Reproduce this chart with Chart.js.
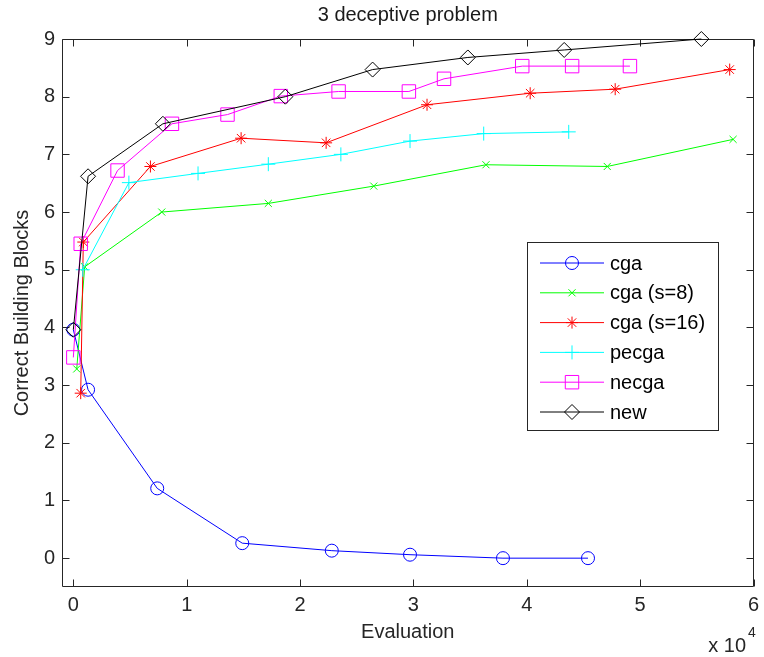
<!DOCTYPE html>
<html>
<head>
<meta charset="utf-8">
<title>3 deceptive problem</title>
<script src="https://cdn.jsdelivr.net/npm/chart.js@4.4.1/dist/chart.umd.min.js"></script>
<style>
  html, body { margin: 0; padding: 0; background: #fff; }
  #wrap { width: 764px; height: 657px; }
</style>
</head>
<body>
<div id="wrap"><canvas id="chart" width="764" height="657"></canvas></div>
<script>
// data (evaluations, correct building blocks)
const seriesNames = ['cga', 'cga (s=8)', 'cga (s=16)', 'pecga', 'necga', 'new'];

const cgaX = [0, 1300, 7400, 14900, 22800, 29700, 37900, 45400];
const cgaY = [3.96, 2.92, 1.21, 0.26, 0.13, 0.06, 0.0, 0.0];

const cga8X = [300, 1000, 7800, 17200, 26500, 36400, 47100, 58200];
const cga8Y = [3.28, 5.05, 6.0, 6.15, 6.45, 6.82, 6.79, 7.26];

const cga16X = [650, 880, 6800, 14800, 22300, 31200, 40300, 47800, 57900];
const cga16Y = [2.86, 5.48, 6.79, 7.28, 7.20, 7.86, 8.06, 8.13, 8.47];

const pecgaX = [830, 4900, 11000, 17200, 23600, 29700, 36200, 43700];
const pecgaY = [5.0, 6.51, 6.67, 6.83, 7.0, 7.23, 7.36, 7.39];

const necgaX = [0, 650, 3900, 8700, 13600, 18300, 23400, 29600, 32700, 39600, 44000, 49100];
const necgaY = [3.48, 5.45, 6.72, 7.53, 7.69, 8.01, 8.09, 8.09, 8.31, 8.53, 8.53, 8.53];

const newX = [0, 1300, 7900, 18700, 26400, 34800, 43300, 55400];
const newY = [3.96, 6.62, 7.53, 8.0, 8.47, 8.68, 8.81, 9.0];

const xTicks = [0, 10000, 20000, 30000, 40000, 50000, 60000];
const xTickLabels = ['0', '1', '2', '3', '4', '5', '6'];
const yTicks = [0, 1, 2, 3, 4, 5, 6, 7, 8, 9];

// styles
const colors = ['#0000ff', '#00ff00', '#ff0000', '#00ffff', '#ff00ff', '#000000'];
const markers = ['circle', 'crossRot', 'star', 'cross', 'rect', 'rectRot'];
const markerSizes = [6.5, 5, 6, 7, 9.5, 7.5];
const FONT = '"Liberation Sans", Arial, sans-serif';
const FS = 20;

const xs = [cgaX, cga8X, cga16X, pecgaX, necgaX, newX];
const ys = [cgaY, cga8Y, cga16Y, pecgaY, necgaY, newY];

function toPoints(xArr, yArr) {
    return xArr.map((x, i) => ({ x: x, y: yArr[i] }));
}

const datasets = seriesNames.map((name, i) => ({
    label: name,
    data: toPoints(xs[i], ys[i]),
    showLine: true,
    borderColor: colors[i],
    borderWidth: 1,
    backgroundColor: 'rgba(0,0,0,0)',
    pointStyle: markers[i],
    pointRadius: markerSizes[i],
    pointBorderColor: colors[i],
    pointBackgroundColor: 'rgba(0,0,0,0)',
    pointBorderWidth: 1,
    order: seriesNames.length - i,
    clip: false,
    tension: 0
}));

// simple marker drawer for the legend
function drawMarker(ctx, style, r, x, y) {
    ctx.beginPath();
    if (style === 'circle') {
        ctx.arc(x, y, r, 0, Math.PI * 2);
    } else if (style === 'cross') {
        ctx.moveTo(x - r, y); ctx.lineTo(x + r, y);
        ctx.moveTo(x, y - r); ctx.lineTo(x, y + r);
    } else if (style === 'crossRot') {
        const d = r * Math.SQRT1_2;
        ctx.moveTo(x - d, y - d); ctx.lineTo(x + d, y + d);
        ctx.moveTo(x - d, y + d); ctx.lineTo(x + d, y - d);
    } else if (style === 'star') {
        const d = r * Math.SQRT1_2;
        ctx.moveTo(x - r, y); ctx.lineTo(x + r, y);
        ctx.moveTo(x, y - r); ctx.lineTo(x, y + r);
        ctx.moveTo(x - d, y - d); ctx.lineTo(x + d, y + d);
        ctx.moveTo(x - d, y + d); ctx.lineTo(x + d, y - d);
    } else if (style === 'rect') {
        const s = r * Math.SQRT1_2;
        ctx.rect(x - s, y - s, 2 * s, 2 * s);
    } else if (style === 'rectRot') {
        ctx.moveTo(x, y - r); ctx.lineTo(x + r, y);
        ctx.lineTo(x, y + r); ctx.lineTo(x - r, y);
        ctx.closePath();
    }
    ctx.stroke();
}

// box, inward ticks, x labels, title, exponent and legend like the original figure
const boxPlugin = {
    id: 'matlabBox',
    beforeDatasetsDraw(chart) {
        const ctx = chart.ctx;
        const a = chart.chartArea;
        const sx = chart.scales.x, sy = chart.scales.y;
        const L = Math.round(a.left) + 0.5, R = Math.round(a.right) - 0.5;
        const T = Math.round(a.top) + 0.5, B = Math.round(a.bottom) - 0.5;
        const tl = 7;
        ctx.save();
        ctx.strokeStyle = '#262626';
        ctx.lineWidth = 1;
        ctx.beginPath();
        ctx.rect(L, T, R - L, B - T);
        xTicks.forEach(v => {
            const px = Math.round(sx.getPixelForValue(v)) + 0.5;
            ctx.moveTo(px, B); ctx.lineTo(px, B - tl);
            ctx.moveTo(px, T); ctx.lineTo(px, T + tl);
        });
        yTicks.forEach(v => {
            const py = Math.round(sy.getPixelForValue(v)) + 0.5;
            ctx.moveTo(L, py); ctx.lineTo(L + tl, py);
            ctx.moveTo(R, py); ctx.lineTo(R - tl, py);
        });
        ctx.stroke();

        // x tick labels
        ctx.fillStyle = '#262626';
        ctx.font = FS + 'px ' + FONT;
        ctx.textAlign = 'center';
        ctx.textBaseline = 'alphabetic';
        xTicks.forEach((v, i) => {
            ctx.fillText(xTickLabels[i], sx.getPixelForValue(v), 611);
        });
        ctx.restore();
    },
    afterDraw(chart) {
        const ctx = chart.ctx;
        const a = chart.chartArea;
        ctx.save();
        // title over the plot area
        ctx.fillStyle = '#1a1a1a';
        ctx.textAlign = 'center';
        ctx.textBaseline = 'middle';
        ctx.font = FS + 'px ' + FONT;
        ctx.fillText('3 deceptive problem', (a.left + a.right) / 2, 15);

        // exponent label
        ctx.fillStyle = '#262626';
        ctx.textBaseline = 'alphabetic';
        ctx.textAlign = 'right';
        ctx.font = FS + 'px ' + FONT;
        ctx.fillText('x 10', 746, 652);
        ctx.textAlign = 'left';
        ctx.font = '14px ' + FONT;
        ctx.fillText('4', 748, 637);

        // legend
        const lx = 527, ly = 242, lw = 191, lh = 188;
        ctx.fillStyle = '#ffffff';
        ctx.fillRect(lx, ly, lw, lh);
        ctx.strokeStyle = '#262626';
        ctx.lineWidth = 1;
        ctx.strokeRect(lx + 0.5, ly + 0.5, lw, lh);
        ctx.font = FS + 'px ' + FONT;
        ctx.textBaseline = 'middle';
        ctx.textAlign = 'left';
        seriesNames.forEach((name, i) => {
            const y = 263 + i * 29.8;
            ctx.strokeStyle = colors[i];
            ctx.lineWidth = 1;
            ctx.beginPath();
            ctx.moveTo(540, y); ctx.lineTo(604, y);
            ctx.stroke();
            drawMarker(ctx, markers[i], markerSizes[i], 572, y);
            ctx.fillStyle = '#000000';
            ctx.fillText(name, 610, y + 1);
        });
        ctx.restore();
    }
};

const chart = new Chart(document.getElementById('chart'), {
    type: 'scatter',
    data: { datasets },
    options: {
        responsive: false,
        animation: false,
        devicePixelRatio: 1,
        layout: { padding: { left: 0, right: 8, top: 39, bottom: 0 } },
        plugins: {
            legend: { display: false },
            tooltip: { enabled: false },
            title: { display: false }
        },
        scales: {
            x: {
                type: 'linear',
                min: -1000,
                max: 60000,
                grid: { display: false, drawTicks: false },
                border: { display: false },
                afterBuildTicks: s => { s.ticks = xTicks.map(v => ({ value: v })); },
                afterFit: s => { s.height = 70; },
                ticks: { display: false },
                title: {
                    display: true,
                    text: 'Evaluation',
                    color: '#262626',
                    font: { family: FONT, size: FS },
                    padding: { top: 0, bottom: 13 }
                }
            },
            y: {
                type: 'linear',
                min: -0.5,
                max: 9,
                grid: { display: false, drawTicks: false },
                border: { display: false },
                afterBuildTicks: s => { s.ticks = yTicks.map(v => ({ value: v })); },
                afterFit: s => { s.width = 62; s.paddingTop = 0; s.paddingBottom = 0; },
                ticks: {
                    color: '#262626',
                    font: { family: FONT, size: FS },
                    padding: 7,
                    callback: v => String(v)
                },
                title: {
                    display: true,
                    text: 'Correct Building Blocks',
                    color: '#262626',
                    font: { family: FONT, size: FS },
                    padding: { top: 10, bottom: 0 }
                }
            }
        }
    },
    plugins: [boxPlugin]
});
</script>
</body>
</html>
